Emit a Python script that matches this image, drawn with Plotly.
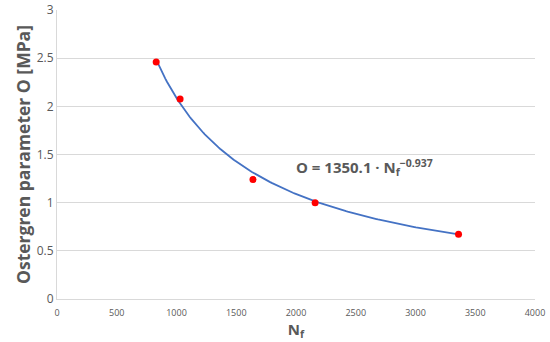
import numpy as np
import plotly.graph_objects as go

# Data
nf_points = [830, 1030, 1640, 2160, 3360]
o_points = [2.46, 2.075, 1.24, 1.00, 0.672]

# Power trendline coefficients as printed on the chart
fit_a = 1350.1
fit_b = -0.937

x_ticks = [0, 500, 1000, 1500, 2000, 2500, 3000, 3500, 4000]
y_ticks = [0, 0.5, 1, 1.5, 2, 2.5, 3]

curve_x = np.linspace(min(nf_points), max(nf_points), 200)
curve_y = fit_a * curve_x ** fit_b

gray = "#595959"
font_family = "Open Sans, Liberation Sans, sans-serif"

fig = go.Figure()
fig.add_trace(go.Scatter(x=curve_x, y=curve_y, mode="lines",
                         line=dict(color="#4472C4", width=1.8),
                         hoverinfo="skip", showlegend=False))
fig.add_trace(go.Scatter(x=nf_points, y=o_points, mode="markers",
                         marker=dict(color="#FF0000", size=7),
                         showlegend=False))

fig.add_annotation(x=2570, y=1.37, xref="x", yref="y",
                   text="<b>O = 1350.1 · N<sub>f</sub><sup>−0.937</sup></b>",
                   showarrow=False, font=dict(size=15, color=gray, family=font_family))

fig.update_layout(
    width=550, height=342,
    margin=dict(l=57, r=15, t=10, b=43, autoexpand=False),
    paper_bgcolor="white", plot_bgcolor="white",
    font=dict(family=font_family, color=gray),
    xaxis=dict(range=[0, 4000], tickvals=x_ticks, ticktext=[str(v) for v in x_ticks],
               automargin=False, ticklabelstandoff=5,
               showgrid=False, zeroline=False, showline=True, linecolor="#D9D9D9",
               linewidth=1, ticks="", tickfont=dict(size=9, color=gray),
               title=dict(text="<b>N<sub>f</sub></b>", font=dict(size=15, color=gray), standoff=0)),
    yaxis=dict(range=[0, 3], tickvals=y_ticks, ticktext=["0", "0.5", "1", "1.5", "2", "2.5", "3"],
               automargin=False,
               showgrid=True, gridcolor="#D9D9D9", gridwidth=1, zeroline=False,
               showline=True, linecolor="#D9D9D9", linewidth=1, ticks="",
               tickfont=dict(size=12, color=gray),
               title=dict(text="<b>Ostergren parameter O [MPa]</b>", font=dict(size=17.5, color=gray), standoff=1)),
)

fig.write_html("out.html", config={"displayModeBar": False},
               post_script="document.body.style.margin='0px';document.body.style.overflow='hidden';")
